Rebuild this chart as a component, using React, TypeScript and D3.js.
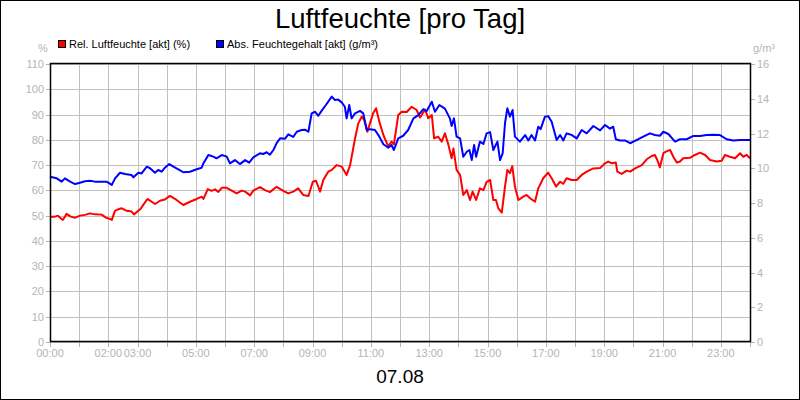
import * as d3 from "d3";

// Rel. Luftfeuchte (%) — hour of day / value
const relHours = [
  0, 0.17, 0.27, 0.44, 0.57, 0.71, 0.86, 1.03, 1.2, 1.37, 1.54, 1.77, 1.92, 2.06, 2.12, 2.23, 2.34, 2.46, 2.63, 2.8,
  2.88, 3.09, 3.34, 3.6, 3.77, 3.94, 4.11, 4.34, 4.57, 4.8, 5.03, 5.2, 5.26, 5.41, 5.54, 5.66, 5.77, 5.89, 6.06, 6.23,
  6.4, 6.57, 6.69, 6.86, 6.97, 7.2, 7.37, 7.54, 7.77, 8.0, 8.17, 8.34, 8.51, 8.68, 8.86, 9.01, 9.12, 9.26, 9.37, 9.54,
  9.66, 9.83, 10.0, 10.17, 10.29, 10.46, 10.57, 10.69, 10.77, 10.88, 10.97, 11.08, 11.18, 11.29, 11.43, 11.6, 11.71,
  11.79, 11.94, 12.06, 12.23, 12.4, 12.57, 12.69, 12.86, 12.97, 13.09, 13.17, 13.31, 13.43, 13.54, 13.66, 13.77,
  13.83, 13.94, 14.06, 14.17, 14.29, 14.4, 14.49, 14.61, 14.74, 14.86, 14.97, 15.09, 15.2, 15.29, 15.37, 15.49,
  15.6, 15.68, 15.77, 15.85, 15.94, 16.06, 16.23, 16.34, 16.46, 16.63, 16.74, 16.91, 17.08, 17.2, 17.35, 17.49,
  17.6, 17.71, 17.89, 18.06, 18.23, 18.4, 18.63, 18.86, 19.03, 19.14, 19.26, 19.4, 19.45, 19.6, 19.77, 19.89,
  20.06, 20.29, 20.46, 20.63, 20.74, 20.82, 20.91, 21.03, 21.12, 21.26, 21.37, 21.49, 21.6, 21.71, 21.94, 22.11,
  22.29, 22.46, 22.63, 22.86, 23.03, 23.14, 23.31, 23.49, 23.66, 23.77, 23.89, 24.0,
];
const relPct = [
  49.6, 49.6, 50.0, 48.3, 50.7, 49.6, 49.2, 50.0, 50.3, 50.9, 50.5, 50.4, 49.2, 48.7, 48.3, 52.0, 52.5, 52.9, 51.9, 51.6,
  50.5, 52.5, 56.6, 54.6, 55.9, 56.4, 57.8, 56.2, 54.2, 55.5, 56.6, 57.5, 56.6, 60.5, 59.8, 60.4, 59.4, 61.0, 61.0, 59.9,
  58.8, 59.9, 59.5, 58.0, 59.9, 61.3, 60.1, 59.3, 61.4, 59.8, 58.8, 59.5, 60.8, 58.2, 57.8, 63.4, 63.8, 59.5, 64.1, 67.4,
  68.1, 70.0, 69.4, 66.1, 70.0, 80.6, 86.5, 89.2, 87.9, 83.2, 86.5, 90.5, 92.5, 87.2, 81.9, 77.3, 79.3,
  78.2, 89.8, 91.1, 91.0, 93.1, 91.8, 88.8, 92.0, 88.5, 89.8, 80.6, 81.2, 79.3, 82.6, 78.0, 72.7,
  76.6, 68.1, 66.1, 58.2, 60.1, 56.2, 59.5, 56.2, 60.8, 60.1, 63.4, 64.1, 56.2, 56.2, 52.9, 51.2,
  61.5, 68.1, 66.8, 69.6, 61.5, 56.2, 57.5, 58.2, 56.9, 55.5, 60.8, 64.8, 67.0, 64.8, 61.5, 63.4,
  62.6, 64.8, 64.1, 64.1, 66.1, 67.4, 68.7, 68.8, 70.7, 71.4, 70.7, 71.0, 67.4, 66.5, 67.8, 67.4,
  68.7, 70.0, 72.3, 73.6, 74.0, 72.0, 69.1, 74.7, 75.3, 76.0, 73.3, 71.0, 71.4, 72.7, 72.9, 74.0,
  74.9, 74.0, 72.0, 71.4, 71.7, 74.0, 73.3, 72.7, 74.7, 73.3, 74.0, 72.7,
];

// Abs. Feuchtegehalt (g/m³) — hour of day / value
const absHours = [
  0, 0.23, 0.4, 0.51, 0.69, 0.86, 1.03, 1.2, 1.37, 1.54, 1.77, 1.94, 2.12, 2.23, 2.4, 2.57, 2.8, 2.86, 3.03, 3.14,
  3.32, 3.43, 3.6, 3.71, 3.83, 3.94, 4.09, 4.23, 4.4, 4.57, 4.8, 5.03, 5.2, 5.26, 5.43, 5.6, 5.71, 5.89, 6.06, 6.17,
  6.34, 6.51, 6.69, 6.83, 6.97, 7.2, 7.31, 7.43, 7.54, 7.66, 7.77, 7.89, 8.06, 8.17, 8.34, 8.46, 8.63, 8.74, 8.86,
  8.97, 9.09, 9.2, 9.31, 9.46, 9.66, 9.77, 9.88, 10.0, 10.11, 10.17, 10.26, 10.34, 10.46, 10.63, 10.74, 10.86,
  10.97, 11.14, 11.26, 11.43, 11.6, 11.71, 11.79, 11.94, 12.11, 12.28, 12.46, 12.63, 12.8, 12.91, 13.09, 13.2,
  13.35, 13.54, 13.71, 13.77, 13.85, 13.94, 14.06, 14.17, 14.29, 14.38, 14.46, 14.54, 14.61, 14.74, 14.86, 14.97,
  15.09, 15.2, 15.34, 15.43, 15.52, 15.6, 15.68, 15.77, 15.86, 15.94, 16.11, 16.29, 16.4, 16.51, 16.63, 16.74,
  16.82, 16.97, 17.08, 17.2, 17.37, 17.49, 17.6, 17.71, 17.89, 18.06, 18.23, 18.4, 18.63, 18.86, 19.03, 19.2,
  19.31, 19.4, 19.54, 19.71, 19.89, 20.0, 20.17, 20.34, 20.57, 20.74, 20.91, 21.03, 21.2, 21.43, 21.6, 21.83,
  22.06, 22.29, 22.51, 22.74, 22.97, 23.2, 23.43, 23.66, 24.0,
];
const absGm3 = [
  9.51, 9.42, 9.23, 9.42, 9.23, 9.09, 9.17, 9.25, 9.28, 9.23, 9.23, 9.23, 9.04, 9.42, 9.74, 9.67, 9.61, 9.48, 9.74, 9.7,
  10.09, 10.0, 9.74, 9.9, 9.8, 10.03, 10.24, 10.09, 9.94, 9.77, 9.8, 9.94, 10.03, 10.28, 10.76, 10.67, 10.57, 10.76, 10.67, 10.28,
  10.47, 10.24, 10.47, 10.32, 10.63, 10.86, 10.82, 10.92, 10.78, 11.05, 11.45, 11.72, 11.7, 11.95, 11.8, 12.1, 12.2, 12.22, 12.1,
  13.16, 13.25, 13.02, 13.3, 13.64, 14.12, 13.93, 13.95, 13.79, 13.54, 12.87, 13.64, 12.87, 13.16, 13.3, 13.16, 12.2,
  12.25, 12.2, 11.91, 11.38, 11.18, 11.34, 11.05, 11.72, 11.87, 12.2, 12.87, 13.06, 13.4, 13.28, 13.83, 13.25,
  13.64, 13.43, 12.87, 12.43, 12.87, 11.82, 11.72, 10.66, 10.95, 11.05, 10.47, 11.34, 10.66, 11.53, 11.4, 12.01,
  12.08, 11.05, 11.53, 10.47, 10.85, 12.59, 13.45, 12.97, 13.35, 11.82, 11.53, 11.91, 11.6, 11.91, 11.6, 12.39,
  12.25, 12.97, 13.0, 12.68, 11.63, 11.91, 11.6, 12.01, 11.91, 11.72, 12.2, 12.01, 12.43, 12.18, 12.49, 12.28,
  12.39, 11.67, 11.6, 11.6, 11.44, 11.53, 11.67, 11.82, 12.01, 11.91, 11.87, 12.1, 11.97, 11.53, 11.67, 11.67,
  11.86, 11.86, 11.91, 11.93, 11.91, 11.67, 11.6, 11.63, 11.63,
];

const leftTicks = [0, 10, 20, 30, 40, 50, 60, 70, 80, 90, 100, 110];
const rightTicks = [0, 2, 4, 6, 8, 10, 12, 14, 16];
const hourTicks = d3.range(0, 25);
const hourLabels = [0, 2, 3, 5, 7, 9, 11, 13, 15, 17, 19, 21, 23];

const W = 800;
const H = 400;
const plot = { left: 50, right: 750, top: 64, bottom: 342 };
const FONT = "'Liberation Sans', Arial, sans-serif";
const GRAY = "#b4b4b4";
const GRID = "#c0c0c0";

export default function App() {
  const x = d3.scaleLinear().domain([0, 24]).range([plot.left, plot.right]);
  const yL = d3.scaleLinear().domain([0, 110]).range([plot.bottom, plot.top]);
  const yR = d3.scaleLinear().domain([0, 16]).range([plot.bottom, plot.top]);

  const relLine = d3
    .line<number>()
    .x((_, i) => x(relHours[i]))
    .y((d) => yL(d));
  const absLine = d3
    .line<number>()
    .x((_, i) => x(absHours[i]))
    .y((d) => yR(d));

  const pad = (h: number) => `${String(h).padStart(2, "0")}:00`;

  return (
    <svg
      width={W}
      height={H}
      style={{ position: "absolute", left: 0, top: 0, fontFamily: FONT }}
    >
      <rect x={0.5} y={0.5} width={W - 1} height={H - 1} fill="#fff" stroke="#000" />

      <text x={400} y={27.5} textAnchor="middle" fontSize={27.5} fill="#000">
        Luftfeuchte [pro Tag]
      </text>

      {/* legend */}
      <rect x={58.5} y={40.5} width={7} height={7} fill="#ff0000" stroke="#000" />
      <text x={69} y={48} fontSize={11} fill="#000">
        Rel. Luftfeuchte [akt] (%)
      </text>
      <rect x={216.5} y={40.5} width={7} height={7} fill="#0000ff" stroke="#000" />
      <text x={227} y={48} fontSize={11} fill="#000">
        Abs. Feuchtegehalt [akt] (g/m³)
      </text>

      <text x={43} y={52} textAnchor="middle" fontSize={11} fill={GRAY}>
        %
      </text>
      <text x={753} y={52} fontSize={11} fill={GRAY}>
        g/m³
      </text>

      {/* grid */}
      {leftTicks.map((t) => (
        <line key={`hg${t}`} x1={plot.left} x2={plot.right} y1={Math.round(yL(t)) + 0.5} y2={Math.round(yL(t)) + 0.5} stroke={GRID} />
      ))}
      {hourTicks.map((h) => (
        <line key={`vg${h}`} x1={Math.round(x(h)) + 0.5} x2={Math.round(x(h)) + 0.5} y1={plot.top} y2={plot.bottom} stroke={GRID} />
      ))}

      {/* left axis */}
      {leftTicks.map((t) => (
        <g key={`lt${t}`}>
          <line x1={46} x2={plot.left} y1={Math.round(yL(t)) + 0.5} y2={Math.round(yL(t)) + 0.5} stroke={GRAY} />
          <text x={44} y={yL(t) + 4} textAnchor="end" fontSize={11} fill={GRAY}>
            {t}
          </text>
        </g>
      ))}

      {/* right axis */}
      {rightTicks.map((t) => (
        <g key={`rt${t}`}>
          <line x1={plot.right} x2={755} y1={Math.round(yR(t)) + 0.5} y2={Math.round(yR(t)) + 0.5} stroke={GRAY} />
          <text x={757} y={yR(t) + 4} fontSize={11} fill={GRAY}>
            {t}
          </text>
        </g>
      ))}

      {/* x axis */}
      {hourTicks.map((h) => (
        <line key={`xt${h}`} x1={Math.round(x(h)) + 0.5} x2={Math.round(x(h)) + 0.5} y1={plot.bottom} y2={plot.bottom + 5} stroke={GRAY} />
      ))}
      {hourLabels.map((h) => (
        <text key={`xl${h}`} x={x(h)} y={357} textAnchor="middle" fontSize={11} fill={GRAY}>
          {pad(h)}
        </text>
      ))}

      {/* series */}
      <path d={relLine(relPct) ?? ""} fill="none" stroke="#ff0000" strokeWidth={2} strokeLinejoin="round" />
      <path d={absLine(absGm3) ?? ""} fill="none" stroke="#0000ff" strokeWidth={2} strokeLinejoin="round" />

      {/* frame */}
      <rect
        x={plot.left + 0.5}
        y={plot.top - 0.5}
        width={plot.right - plot.left}
        height={plot.bottom - plot.top}
        fill="none"
        stroke="#000"
        strokeWidth={1.5}
      />

      <text x={400} y={383} textAnchor="middle" fontSize={19} fill="#000">
        07.08
      </text>
    </svg>
  );
}
